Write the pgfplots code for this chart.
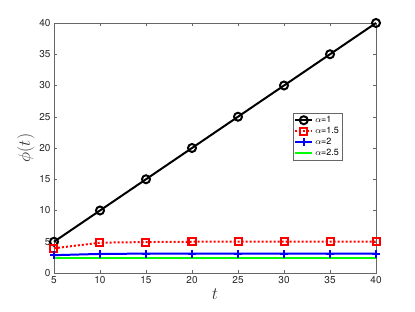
\documentclass[border=0pt]{standalone}
\usepackage{pgfplots}
\pgfplotsset{compat=1.18}
\usepackage{fontspec}
\setmainfont{TeX Gyre Heros}
\begin{document}
\begin{tikzpicture}
\begin{axis}[
  scale only axis, width=322pt, height=250pt,
  xmin=5, xmax=40, ymin=0, ymax=40,
  xtick={5,10,...,40}, ytick={0,5,...,40},
  tick align=inside, major tick length=3pt,
  axis line style={draw=black!60, line width=0.6pt},
  every tick/.style={black!60},
  tick label style={font=\fontsize{10}{12}\selectfont, text=black!85},
  /pgf/number format/assume math mode=true,
  xlabel={$t$}, ylabel={$\phi(t)$},
  label style={font=\fontsize{17}{19}\selectfont, text=black!80},
  xlabel style={yshift=2pt},
  ylabel style={yshift=-2pt},
  legend style={at={(axis description cs:0.742,0.64)}, anchor=north west,
    font=\fontsize{9}{10}\selectfont, draw=black!60, line width=0.6pt,
    inner sep=1pt, row sep=-1pt},
  legend cell align=left,
  clip=false,
]
\addplot[black, line width=2pt, mark=o, mark size=4pt, mark options={line width=2pt}]
 coordinates {(5,5)(10,10)(15,15)(20,20)(25,25)(30,30)(35,35)(40,40)};
\addlegendentry{$\alpha$=1}
\addplot[red, line width=2pt, dotted, mark=square, mark size=3.5pt, mark options={solid, line width=2pt}]
 coordinates {(5,3.95)(10,4.85)(15,4.95)(20,5.0)(25,5.0)(30,5.0)(35,5.0)(40,5.0)};
\addlegendentry{$\alpha$=1.5}
\addplot[blue, line width=2pt, mark=+, mark size=4pt, mark options={line width=2pt}]
 coordinates {(5,2.85)(10,3.05)(15,3.1)(20,3.1)(25,3.1)(30,3.1)(35,3.1)(40,3.1)};
\addlegendentry{$\alpha$=2}
\addplot[green, line width=2pt]
 coordinates {(5,2.4)(10,2.4)(15,2.4)(20,2.4)(25,2.4)(30,2.4)(35,2.4)(40,2.4)};
\addlegendentry{$\alpha$=2.5}
\end{axis}
\path[use as bounding box] (-54pt,-39pt) rectangle (361pt,273pt);
\end{tikzpicture}
\end{document}
